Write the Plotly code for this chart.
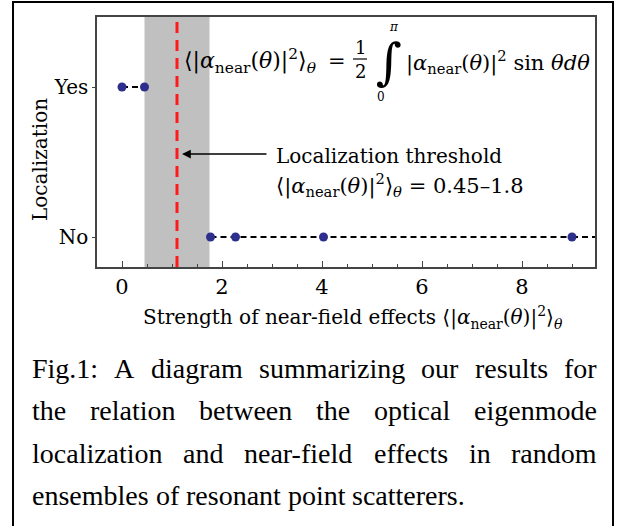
import plotly.graph_objects as go

# ---------------- data ----------------
yes_x = [0.0, 0.45]
yes_y = [1, 1]
no_x = [1.77, 2.27, 4.03, 9.0]
no_y = [0, 0, 0, 0]
band = [0.45, 1.75]          # grey threshold band
threshold = 1.1              # red dashed threshold line
x_ticks = [0, 2, 4, 6, 8]
y_ticks = [0, 1]
y_ticklabels = ["No", "Yes"]
x_range = [-0.5, 9.46]
y_range = [-0.2, 1.467]
arrow_tip = [1.2, 0.553]
arrow_tail = [2.92, 0.553]

caption_lines = [
    "Fig.1: A diagram summarizing our results for",
    "the relation between the optical eigenmode",
    "localization and near-field effects in random",
    "ensembles of resonant point scatterers.",
]

# ---------------- layout helpers ----------------
W, H = 618, 526
L, R, T, B = 97, 595, 17, 267


def px(x):
    return (x - L) / (R - L)


def py(y):
    return (B - y) / (B - T)


SERIF = "DejaVu Serif"
CAPFONT = "Liberation Serif"
MARK = "#2e2e8c"
AX = "#444444"

fig = go.Figure()

fig.add_trace(go.Scatter(
    x=yes_x, y=yes_y, mode="lines+markers",
    line=dict(color="black", width=2, dash="6px,4px"),
    marker=dict(size=9, color=MARK), showlegend=False, hoverinfo="skip"))
fig.add_trace(go.Scatter(
    x=no_x, y=no_y, mode="lines+markers",
    line=dict(color="black", width=2, dash="6px,4px"),
    marker=dict(size=9, color=MARK), showlegend=False, hoverinfo="skip"))

shapes = [
    dict(type="rect", xref="x", yref="paper", x0=band[0], x1=band[1], y0=0, y1=1,
         fillcolor="#c0c0c0", line=dict(width=0), layer="below"),
    dict(type="line", xref="x", yref="paper", x0=threshold, x1=threshold, y0=0, y1=1,
         line=dict(color="#ff1a1a", width=3, dash="11px,7px"), layer="below"),
    dict(type="line", xref="x", yref="y", x0=no_x[-1], x1=x_range[1], y0=no_y[-1], y1=no_y[-1],
         line=dict(color="black", width=2, dash="6px,4px"), layer="below"),
    # fraction bar
    dict(type="line", xref="paper", yref="paper", x0=px(353), x1=px(367), y0=py(59), y1=py(59),
         line=dict(color="black", width=1.2)),
    # outer frame
    dict(type="rect", xref="paper", yref="paper", x0=px(13), x1=px(613), y0=py(560), y1=py(2),
         line=dict(color="black", width=2), fillcolor="rgba(0,0,0,0)"),
]

ann = []


def text(x, y, s, size, xanchor="left", yanchor="middle", angle=0, family=SERIF):
    ann.append(dict(xref="paper", yref="paper", x=px(x), y=py(y), text=s, showarrow=False,
                    xanchor=xanchor, yanchor=yanchor, textangle=angle, borderpad=0,
                    font=dict(family=family, size=size, color="black")))


amean = "⟨|<i>α</i><sub>near</sub>(<i>θ</i>)|<sup>2</sup>⟩<sub><i>θ</i></sub>"

# formula at top
text(183, 61, amean, 22)
text(337, 61, "=", 21, xanchor="center")
text(360, 47, "1", 18, xanchor="center")
text(360, 71, "2", 18, xanchor="center")
text(389, 62, "<i>∫</i>", 50, xanchor="center")
text(394, 27, "<i>π</i>", 12, xanchor="center")
text(381, 97, "0", 12, xanchor="center")
text(405, 62, "|<i>α</i><sub>near</sub>(<i>θ</i>)|<sup>2</sup> sin <i>θdθ</i>", 21)

# threshold label
text(275, 156, "Localization threshold", 20)
text(275, 185, amean + " = 0.45–1.8", 21)

# axis titles
text(40, 160, "Localization", 20, xanchor="center", angle=-90)
text(353, 317, "Strength of near-field effects " + amean, 20, xanchor="center")

# arrow
ann.append(dict(xref="x", yref="y", axref="x", ayref="y",
                x=arrow_tip[0], y=arrow_tip[1], ax=arrow_tail[0], ay=arrow_tail[1],
                text="", showarrow=True, arrowhead=2, arrowsize=1.1, arrowwidth=1.6,
                arrowcolor="black"))

# justified caption (Times metrics == Liberation Serif metrics)
AFM = {' ': 250, '.': 250, ':': 278, '-': 333, '1': 500, 'A': 722, 'F': 556,
       'a': 444, 'b': 500, 'c': 444, 'd': 500, 'e': 444, 'f': 333, 'g': 500, 'h': 500,
       'i': 278, 'j': 278, 'k': 500, 'l': 278, 'm': 778, 'n': 500, 'o': 500, 'p': 500,
       'q': 500, 'r': 333, 's': 389, 't': 278, 'u': 500, 'v': 500, 'w': 722, 'x': 500,
       'y': 500, 'z': 444}
CAP = 28
cx0, cx1 = 31, 596
cy = [368, 410, 453, 495]


def tw(s):
    return sum(AFM.get(c, 500) for c in s) / 1000 * CAP


for i, line in enumerate(caption_lines):
    words = line.split()
    widths = [tw(w) for w in words]
    if i < len(caption_lines) - 1:
        gap = (cx1 - cx0 - sum(widths)) / (len(words) - 1)
    else:
        gap = tw(" ")
    x = cx0
    for w, wd in zip(words, widths):
        text(x, cy[i], w, CAP, family=CAPFONT)
        x += wd + gap

fig.update_layout(
    width=W, height=H,
    margin=dict(l=L, r=W - R, t=T, b=H - B, pad=0),
    paper_bgcolor="white", plot_bgcolor="white",
    shapes=shapes, annotations=ann,
    xaxis=dict(range=x_range, tickvals=x_ticks, ticks="inside", ticklen=6, tickcolor=AX,
               showline=True, linecolor=AX, linewidth=1.5, mirror=True, showgrid=False,
               zeroline=False, tickfont=dict(family=SERIF, size=21, color="black"),
               minor=dict(dtick=0.5, ticks="inside", ticklen=3, tickcolor=AX, showgrid=False)),
    yaxis=dict(range=y_range, tickvals=y_ticks, ticktext=y_ticklabels, ticks="outside",
               ticklen=3, tickcolor=AX, showline=True, linecolor=AX, linewidth=1.5,
               mirror=True, showgrid=False, zeroline=False,
               tickfont=dict(family=SERIF, size=20, color="black")),
)

fig.write_html("out.html", config={"displayModeBar": False},
               post_script="document.body.style.margin='0px';")
